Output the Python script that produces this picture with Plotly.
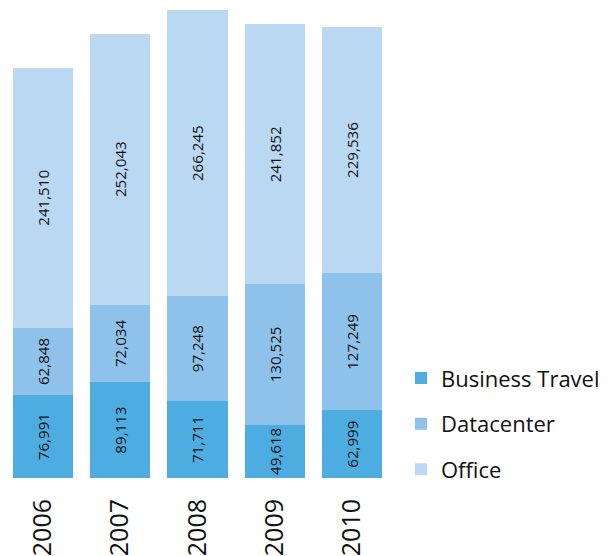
import plotly.graph_objects as go

years = ["2006", "2007", "2008", "2009", "2010"]
business_travel = [76991, 89113, 71711, 49618, 62999]
datacenter = [62848, 72034, 97248, 130525, 127249]
office = [241510, 252043, 266245, 241852, 229536]

series = [
    ("Business Travel", business_travel, "#4DADE0"),
    ("Datacenter", datacenter, "#8EC2EA"),
    ("Office", office, "#BAD8F1"),
]

fig = go.Figure()
for name, vals, color in series:
    fig.add_trace(go.Bar(
        x=years, y=vals, name=name, marker_color=color,
        marker_line_width=0,
        text=[f"{v:,}" for v in vals], textposition="inside",
        textangle=-90, insidetextanchor="middle",
        textfont=dict(family="Open Sans", size=15.5, color="#111111"),
        legendgroup=name,
    ))

totals = [a + b + c for a, b, c in zip(business_travel, datacenter, office)]

W, H = 600, 548
D = 380.0
step = 77.25
r0 = -35.0 / step
r1 = r0 + D / step

fig.update_layout(
    barmode="stack",
    bargap=0.223,
    width=W, height=H,
    margin=dict(l=0, r=0, t=2, b=78),
    paper_bgcolor="white", plot_bgcolor="white",
    font=dict(family="Open Sans", color="#111111"),
    xaxis=dict(domain=[0, D / W], range=[r0, r1], tickangle=-90,
               tickfont=dict(size=25, color="#111111"), showgrid=False,
               showline=False, ticks="", ticklabelstandoff=15),
    yaxis=dict(range=[0, max(totals)], visible=False, showgrid=False),
    legend=dict(x=0.655, y=0.258, xanchor="left", yanchor="top",
                traceorder="grouped", tracegroupgap=14,
                font=dict(size=22, color="#111111"), bgcolor="rgba(0,0,0,0)"),
    uniformtext=dict(minsize=15, mode="show"),
)

fig.write_html("out.html")
